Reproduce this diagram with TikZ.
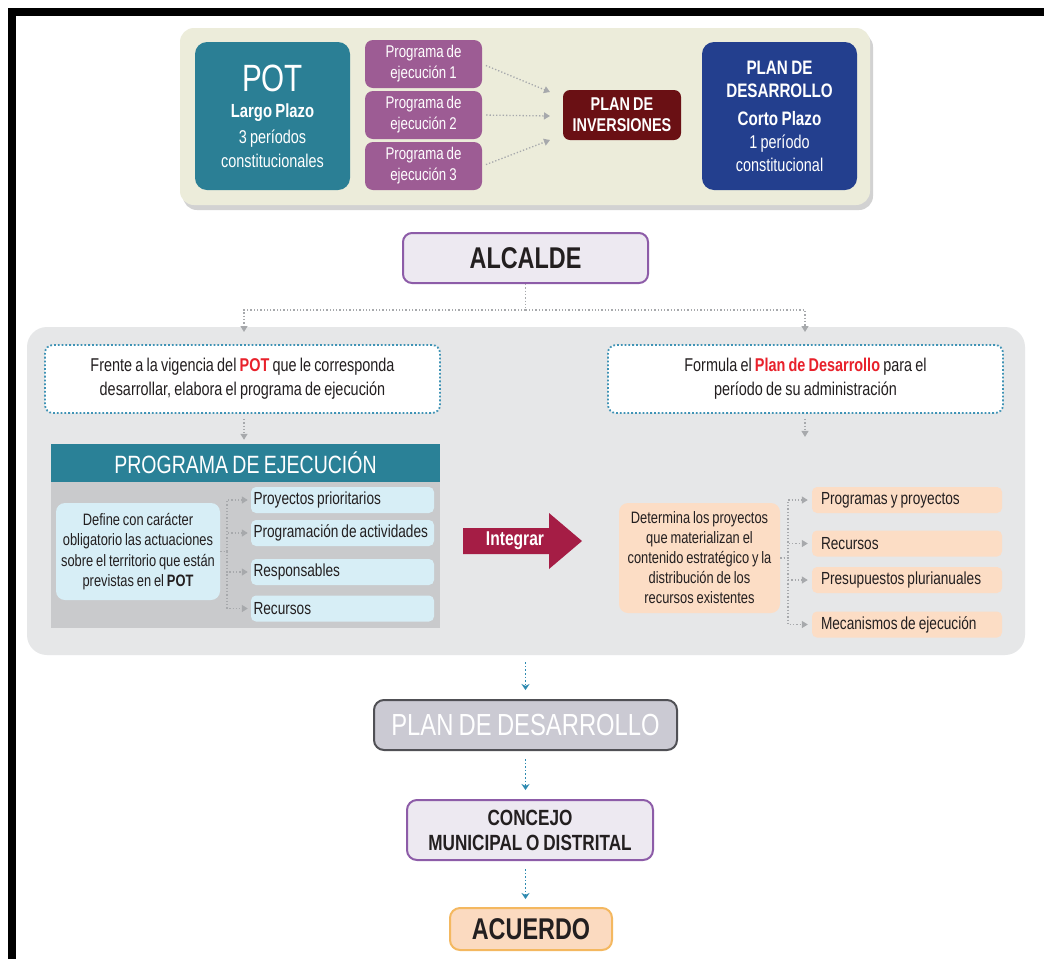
\documentclass[tikz,border=0pt]{standalone}
\usepackage{fontspec}
\setmainfont[FakeStretch=0.78,WordSpace=0.8]{Liberation Sans}
\usetikzlibrary{arrows.meta,shadows,positioning}
\definecolor{beige}{HTML}{ECECDA}
\definecolor{teal}{HTML}{2B7F95}
\definecolor{purp}{HTML}{9D5C94}
\definecolor{dred}{HTML}{6A1014}
\definecolor{navy}{HTML}{233F8E}
\definecolor{lav}{HTML}{EDE9F1}
\definecolor{lavb}{HTML}{8D5CA8}
\definecolor{gpanel}{HTML}{E6E7E8}
\definecolor{dotb}{HTML}{3F93B5}
\definecolor{peh}{HTML}{2A8197}
\definecolor{pebody}{HTML}{C9CACC}
\definecolor{lblue}{HTML}{D7EEF6}
\definecolor{crim}{HTML}{A51D45}
\definecolor{peach}{HTML}{FCDDC5}
\definecolor{pdfill}{HTML}{CBCAD3}
\definecolor{pdline}{HTML}{505055}
\definecolor{orb}{HTML}{F4B860}
\definecolor{acfill}{HTML}{FBDAC0}
\definecolor{redt}{HTML}{E8212B}
\definecolor{txt}{HTML}{231F20}
\definecolor{garr}{HTML}{A7A9AC}
\definecolor{barr}{HTML}{2E8AB0}
\newcommand\nsp{\spaceskip=0pt\xspaceskip=0pt\relax}
\tikzset{
  box/.style={inner sep=0pt, align=center, rounded corners=#1},
  box/.default=8pt,
  wtext/.style={text=white},
  gline/.style={draw=garr, line width=1.3pt, dotted},
  garrow/.style={gline, -{Triangle[width=7pt,length=6pt]}},
  barrow/.style={draw=barr, line width=1.6pt, dotted, -{Stealth[width=8pt,length=6pt]}},
  pebox/.style={box=8pt, fill=purp, wtext, minimum width=117pt, minimum height=48pt, font=\fontsize{17}{21}\selectfont},
  litem/.style={box=5pt, fill=lblue, text=txt, minimum width=183pt, minimum height=26pt, text width=178pt, align=left, font=\fontsize{17.5}{19}\selectfont},
  ritem/.style={box=5pt, fill=peach, text=txt, minimum width=190pt, minimum height=26pt, text width=172pt, align=left, font=\fontsize{17.5}{19}\selectfont},
  dbox/.style={box=8pt, draw=dotb, line width=1.8pt, dotted, fill=white, text=txt, minimum width=395pt, minimum height=68pt, font=\fontsize{18.5}{24}\selectfont},
}
\begin{document}
\begin{tikzpicture}[x=1pt,y=-1pt]
\useasboundingbox (0,0) rectangle (1044,959);
\fill[white] (0,0) rectangle (1044,959);
\fill[black] (8,8) rectangle (1044,16);
\fill[black] (8,8) rectangle (16,959);
% top panel
\node[box=14pt, fill=beige, minimum width=690pt, minimum height=177pt,
  drop shadow={opacity=0.35, shadow xshift=3pt, shadow yshift=-5pt}] (panel) at (525,116.5) {};
\node[box=12pt, fill=teal, wtext, minimum width=155pt, minimum height=148pt, font=\fontsize{18.5}{24}\selectfont] (pot) at (272.5,116)
  {\fontsize{38}{24}\selectfont POT\\[2pt]\bfseries\fontsize{19}{24}\selectfont Largo Plazo\\[2pt]\mdseries\fontsize{18.5}{24}\selectfont 3 períodos\\\fontsize{18.5}{24}\selectfont constitucionales};
\node[pebox] (pe1) at (423.5,64) {Programa de\\ejecución 1};
\node[pebox] (pe2) at (423.5,115) {Programa de\\ejecución 2};
\node[pebox] (pe3) at (423.5,166) {Programa de\\ejecución 3};
\node[box=7pt, fill=dred, wtext, minimum width=118pt, minimum height=50pt, font=\bfseries\fontsize{18.5}{21}\selectfont] (pi) at (622,115) {PLAN DE\\INVERSIONES};
\node[box=12pt, fill=navy, wtext, minimum width=155pt, minimum height=148pt, font=\fontsize{18.5}{23}\selectfont] (pd) at (779.5,116)
  {\bfseries\fontsize{19.5}{23}\selectfont PLAN DE\\\bfseries\fontsize{19.5}{23}\selectfont DESARROLLO\\[5pt]\bfseries\fontsize{19.5}{23}\selectfont Corto Plazo\\\mdseries\fontsize{18.5}{23}\selectfont 1 período\\\mdseries\fontsize{18.5}{23}\selectfont constitucional};
\coordinate (t1) at (550,92);
\coordinate (t2) at (550,116);
\coordinate (t3) at (550,140);
\draw[garrow, shorten <=4pt] (pe1.east) -- (t1);
\draw[garrow, shorten <=4pt] (pe2.east) -- (t2);
\draw[garrow, shorten <=4pt] (pe3.east) -- (t3);
% alcalde
\node[box=9pt, draw=lavb, line width=2pt, fill=lav, text=txt, minimum width=245pt, minimum height=50pt, font=\bfseries\fontsize{30}{32}\selectfont] (alc) at (525.5,258) {ALCALDE};
% gray panel
\node[box=20pt, fill=gpanel, minimum width=998pt, minimum height=328pt] (gp) at (526,491) {};
\coordinate (jn) at (525.5,310);
\coordinate (lt) at (244,332);
\coordinate (rt) at (805,332);
\draw[gline] (alc.south) -- (jn);
\draw[garrow] (jn) -| (lt);
\draw[garrow] (jn) -| (rt);
\node[dbox] (lbox) at (242.5,379)
  {Frente a la vigencia del {\color{redt}\bfseries POT} que le corresponda\\desarrollar, elabora el programa de ejecución};
\node[dbox] (rbox) at (805.5,379)
  {Formula el {\color{redt}\bfseries Plan de Desarrollo} para el\\período de su administración};
% programa de ejecucion
\node[inner sep=0pt, fill=pebody, minimum width=389pt, minimum height=146pt] (peb) at (245.5,555) {};
\node[inner sep=0pt, fill=peh, wtext, minimum width=389pt, minimum height=38pt, font=\fontsize{25}{26}\selectfont] (pehd) at (245.5,463) {PROGRAMA DE EJECUCIÓN};
\draw[garrow, shorten <=5pt, shorten >=4pt] (lbox.south -| lt) -- (pehd.north -| lt);
\draw[garrow, shorten <=5pt, shorten >=4pt] (rbox.south -| rt) -- ([yshift=-27pt]rbox.south -| rt);
\node[box=9pt, fill=lblue, text=txt, minimum width=164pt, minimum height=97pt, font=\fontsize{16.5}{20.5}\selectfont] (pel) at (138,551.5)
  {Define con carácter\\obligatorio las actuaciones\\sobre el territorio que están\\previstas en el {\bfseries POT}};
\node[litem] (l1) at (342.5,500) {\nsp Proyectos prioritarios};
\node[litem] (l2) at (342.5,533) {\nsp Programación de actividades};
\node[litem] (l3) at (342.5,572) {\nsp Responsables};
\node[litem] (l4) at (342.5,608.5) {\nsp Recursos};
\coordinate (lj) at (227,551.5);
\foreach \n in {l1,l2,l3,l4} \draw[garrow, shorten >=3pt] (pel.east) -- (lj) |- (\n.west);
% integrar arrow
\fill[crim] (463,528) -- (549,528) -- (549,513) -- (582,541) -- (549,569) -- (549,554) -- (463,554) -- cycle;
\node[wtext, font=\bfseries\fontsize{20}{22}\selectfont, inner sep=0pt] (integ) at (515,541) {Integrar};
% right side
\node[box=9pt, fill=peach, text=txt, minimum width=161pt, minimum height=110pt, font=\fontsize{16.5}{20}\selectfont] (rdet) at (699.5,558)
  {Determina los proyectos\\que materializan el\\contenido estratégico y la\\distribución de los\\recursos existentes};
\node[ritem] (r1) at (907,500) {\nsp Programas y proyectos};
\node[ritem] (r2) at (907,543.5) {\nsp Recursos};
\node[ritem] (r3) at (907,580) {\nsp Presupuestos plurianuales};
\node[ritem] (r4) at (907,624.5) {\nsp Mecanismos de ejecución};
\coordinate (rj) at (788,558);
\foreach \n in {r1,r2,r3,r4} \draw[garrow, shorten >=4pt] (rdet.east) -- (rj) |- (\n.west);
% bottom chain
\node[box=10pt, draw=pdline, line width=2pt, fill=pdfill, wtext, minimum width=303pt, minimum height=50pt, font=\fontsize{30.5}{32}\selectfont] (pdb) at (525.5,725) {PLAN DE DESARROLLO};
\node[box=10pt, draw=lavb, line width=2pt, fill=lav, text=txt, minimum width=246pt, minimum height=60pt, font=\bfseries\fontsize{22}{25}\selectfont] (conc) at (530,830) {CONCEJO\\MUNICIPAL O DISTRITAL};
\node[box=10pt, draw=orb, line width=2pt, fill=acfill, text=txt, minimum width=162pt, minimum height=42pt, font=\bfseries\fontsize{30}{32}\selectfont] (acu) at (531,929) {ACUERDO};
\draw[barrow, shorten <=7pt, shorten >=9pt] (gp.south -| pdb) -- (pdb.north);
\draw[barrow, shorten <=8pt, shorten >=9pt] (pdb.south) -- (pdb.south |- conc.north);
\draw[barrow, shorten <=8pt, shorten >=8pt] (pdb.south |- conc.south) -- (pdb.south |- acu.north);
\end{tikzpicture}
\end{document}
